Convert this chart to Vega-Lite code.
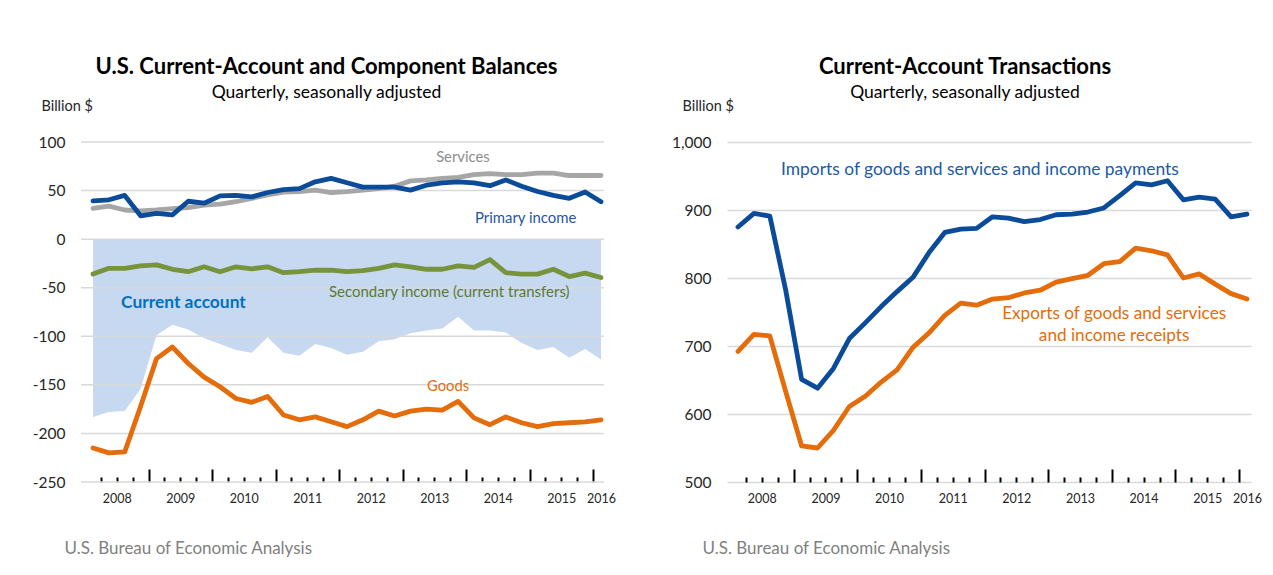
{
  "$schema": "https://vega.github.io/schema/vega-lite/v6.json",
  "background": "white",
  "padding": {"left": 32, "top": 55, "right": 5, "bottom": 5},
  "spacing": 55,
  "config": {"font": "Lato", "view": {"stroke": null}},
  "datasets": {
    "bal": [
      {"t": 2008.125, "goods": -215, "services": 31.7, "primary": 39.5, "secondary": -36, "ca": -183},
      {"t": 2008.375, "goods": -220, "services": 34, "primary": 40.5, "secondary": -30, "ca": -178},
      {"t": 2008.625, "goods": -219, "services": 30, "primary": 45, "secondary": -30, "ca": -177},
      {"t": 2008.875, "goods": -172, "services": 29, "primary": 24, "secondary": -27.5, "ca": -154},
      {"t": 2009.125, "goods": -123, "services": 30, "primary": 26.5, "secondary": -26.5, "ca": -99},
      {"t": 2009.375, "goods": -111, "services": 31.5, "primary": 25, "secondary": -31, "ca": -88},
      {"t": 2009.625, "goods": -128, "services": 32.5, "primary": 39, "secondary": -33.5, "ca": -93},
      {"t": 2009.875, "goods": -142, "services": 35, "primary": 37, "secondary": -28.5, "ca": -102},
      {"t": 2010.125, "goods": -152, "services": 36, "primary": 44.5, "secondary": -33.5, "ca": -108},
      {"t": 2010.375, "goods": -164, "services": 38.5, "primary": 45, "secondary": -28.5, "ca": -114},
      {"t": 2010.625, "goods": -168, "services": 42, "primary": 43.5, "secondary": -30.5, "ca": -117},
      {"t": 2010.875, "goods": -162, "services": 45.5, "primary": 48, "secondary": -28.5, "ca": -101},
      {"t": 2011.125, "goods": -181, "services": 48.5, "primary": 51, "secondary": -34.5, "ca": -117},
      {"t": 2011.375, "goods": -186, "services": 49, "primary": 52, "secondary": -33.5, "ca": -120},
      {"t": 2011.625, "goods": -183, "services": 50.5, "primary": 59, "secondary": -32, "ca": -108},
      {"t": 2011.875, "goods": -188, "services": 48, "primary": 62.5, "secondary": -32, "ca": -112},
      {"t": 2012.125, "goods": -193, "services": 49, "primary": 58, "secondary": -33.5, "ca": -119},
      {"t": 2012.375, "goods": -186, "services": 50.5, "primary": 53.5, "secondary": -32.5, "ca": -116},
      {"t": 2012.625, "goods": -177, "services": 52, "primary": 53.5, "secondary": -30, "ca": -105},
      {"t": 2012.875, "goods": -182, "services": 54.5, "primary": 53.5, "secondary": -26.5, "ca": -103},
      {"t": 2013.125, "goods": -177, "services": 60, "primary": 50.5, "secondary": -28.5, "ca": -97},
      {"t": 2013.375, "goods": -175, "services": 61, "primary": 55.5, "secondary": -31, "ca": -94},
      {"t": 2013.625, "goods": -176, "services": 62.5, "primary": 58, "secondary": -31, "ca": -92},
      {"t": 2013.875, "goods": -167, "services": 63.5, "primary": 59, "secondary": -27.5, "ca": -80},
      {"t": 2014.125, "goods": -184, "services": 66.5, "primary": 58, "secondary": -29, "ca": -94},
      {"t": 2014.375, "goods": -191, "services": 67.5, "primary": 55, "secondary": -21, "ca": -94},
      {"t": 2014.625, "goods": -183, "services": 66.5, "primary": 61, "secondary": -34.5, "ca": -96},
      {"t": 2014.875, "goods": -189, "services": 66.5, "primary": 54.5, "secondary": -36, "ca": -107},
      {"t": 2015.125, "goods": -193, "services": 68, "primary": 49, "secondary": -36, "ca": -114},
      {"t": 2015.375, "goods": -190, "services": 68, "primary": 45, "secondary": -31, "ca": -111},
      {"t": 2015.625, "goods": -189, "services": 65.5, "primary": 42, "secondary": -38.5, "ca": -122},
      {"t": 2015.875, "goods": -188, "services": 65.5, "primary": 48.5, "secondary": -35, "ca": -113},
      {"t": 2016.125, "goods": -186, "services": 65.5, "primary": 38.5, "secondary": -39.5, "ca": -124}
    ],
    "trans": [
      {"t": 2008.125, "imports": 875, "exports": 692},
      {"t": 2008.375, "imports": 895, "exports": 717},
      {"t": 2008.625, "imports": 891, "exports": 715},
      {"t": 2008.875, "imports": 782, "exports": 633},
      {"t": 2009.125, "imports": 651, "exports": 553},
      {"t": 2009.375, "imports": 638, "exports": 550},
      {"t": 2009.625, "imports": 667, "exports": 576},
      {"t": 2009.875, "imports": 711, "exports": 611},
      {"t": 2010.125, "imports": 734, "exports": 626},
      {"t": 2010.375, "imports": 758, "exports": 647},
      {"t": 2010.625, "imports": 780, "exports": 665},
      {"t": 2010.875, "imports": 801, "exports": 698},
      {"t": 2011.125, "imports": 837, "exports": 719},
      {"t": 2011.375, "imports": 867, "exports": 745},
      {"t": 2011.625, "imports": 872, "exports": 763},
      {"t": 2011.875, "imports": 873, "exports": 760},
      {"t": 2012.125, "imports": 890, "exports": 769},
      {"t": 2012.375, "imports": 888, "exports": 771},
      {"t": 2012.625, "imports": 883, "exports": 778},
      {"t": 2012.875, "imports": 886, "exports": 782},
      {"t": 2013.125, "imports": 893, "exports": 794},
      {"t": 2013.375, "imports": 894, "exports": 799},
      {"t": 2013.625, "imports": 897, "exports": 804},
      {"t": 2013.875, "imports": 903, "exports": 821},
      {"t": 2014.125, "imports": 921, "exports": 824},
      {"t": 2014.375, "imports": 940, "exports": 844},
      {"t": 2014.625, "imports": 937, "exports": 840},
      {"t": 2014.875, "imports": 943, "exports": 834},
      {"t": 2015.125, "imports": 915, "exports": 800},
      {"t": 2015.375, "imports": 919, "exports": 806},
      {"t": 2015.625, "imports": 916, "exports": 791},
      {"t": 2015.875, "imports": 890, "exports": 777},
      {"t": 2016.125, "imports": 894, "exports": 769}
    ],
    "gridL": [{"g": -250}, {"g": -200}, {"g": -150}, {"g": -100}, {"g": -50}, {"g": 0}, {"g": 50}, {"g": 100}]
  },
  "hconcat": [
    {
      "width": 523,
      "height": 340,
      "title": {
        "text": "U.S. Current-Account and Component Balances",
        "subtitle": "Quarterly, seasonally adjusted",
        "anchor": "middle",
        "frame": "group",
        "dx": -16,
        "offset": -4,
        "font": "Lato",
        "fontSize": 22,
        "fontWeight": "bold",
        "color": "#000000",
        "subtitleFont": "Lato",
        "subtitleFontSize": 17.5,
        "subtitleColor": "#000000",
        "subtitlePadding": 5
      },
      "layer": [
        {
          "data": {"name": "bal"},
          "mark": {"type": "area", "color": "#C6D9F1", "opacity": 1},
          "encoding": {
            "x": {
              "field": "t",
              "type": "quantitative",
              "scale": {"domain": [2007.936, 2016.172], "nice": false, "zero": false},
              "axis": {
                "values": [2008.25, 2008.5, 2008.75, 2009, 2009.25, 2009.5, 2009.75, 2010, 2010.25, 2010.5, 2010.75, 2011, 2011.25, 2011.5, 2011.75, 2012, 2012.25, 2012.5, 2012.75, 2013, 2013.25, 2013.5, 2013.75, 2014, 2014.25, 2014.5, 2014.75, 2015, 2015.25, 2015.5, 2015.75, 2016, 2016.125],
                "tickCount": 200,
                "labelExpr": "((datum.value * 4) % 4 === 2 || datum.value === 2016.125) ? ('' + floor(datum.value)) : ''",
                "tickSize": {"condition": {"test": "datum.value % 1 === 0", "value": -13}, "value": -5},
                "tickOpacity": {"condition": {"test": "datum.value === 2016.125", "value": 0}, "value": 1},
                "tickColor": "#000000",
                "tickWidth": 2,
                "domain": false,
                "grid": false,
                "labelPadding": 15,
                "labelFontSize": 12.5,
                "labelColor": "#262626",
                "labelFlush": false,
                "labelOverlap": false,
                "labelBound": false,
                "title": "U.S. Bureau of Economic Analysis",
                "titleFontSize": 17,
                "titleFontWeight": "normal",
                "titleColor": "#7f7f7f",
                "titleX": -17,
                "titleY": 66,
                "titleAlign": "left",
                "titleAnchor": "start",
                "titleBaseline": "middle"
              }
            },
            "y": {
              "field": "ca",
              "type": "quantitative",
              "scale": {"domain": [-250, 100], "nice": false, "zero": false},
              "axis": {
                "values": [-250, -200, -150, -100, -50, 0, 50, 100],
                "grid": false,
                "domain": false,
                "ticks": false,
                "labelPadding": 16,
                "labelFontSize": 15.5,
                "labelColor": "#262626",
                "labelExpr": "'' + datum.value",
                "title": "Billion $",
                "titleAngle": 0,
                "titleX": -40,
                "titleY": -36,
                "titleAlign": "left",
                "titleBaseline": "middle",
                "titleFontSize": 14.5,
                "titleFontWeight": "normal",
                "titleColor": "#262626"
              }
            },
            "y2": {"datum": 0}
          }
        },
        {
          "data": {"name": "gridL"},
          "mark": {"type": "rule", "color": "#d9d9d9", "strokeWidth": 1.5},
          "encoding": {"y": {"field": "g", "type": "quantitative"}}
        },
        {
          "data": {"name": "bal"},
          "mark": {"type": "line", "color": "#A6A6A6", "strokeWidth": 4.8, "strokeJoin": "round", "strokeCap": "round"},
          "encoding": {
            "x": {"field": "t", "type": "quantitative"},
            "y": {"field": "services", "type": "quantitative"}
          }
        },
        {
          "data": {"name": "bal"},
          "mark": {"type": "line", "color": "#77933C", "strokeWidth": 4.8, "strokeJoin": "round", "strokeCap": "round"},
          "encoding": {
            "x": {"field": "t", "type": "quantitative"},
            "y": {"field": "secondary", "type": "quantitative"}
          }
        },
        {
          "data": {"name": "bal"},
          "mark": {"type": "line", "color": "#E46C0A", "strokeWidth": 4.8, "strokeJoin": "round", "strokeCap": "round"},
          "encoding": {
            "x": {"field": "t", "type": "quantitative"},
            "y": {"field": "goods", "type": "quantitative"}
          }
        },
        {
          "data": {"name": "bal"},
          "mark": {"type": "line", "color": "#0B4C9A", "strokeWidth": 4.8, "strokeJoin": "round", "strokeCap": "round"},
          "encoding": {
            "x": {"field": "t", "type": "quantitative"},
            "y": {"field": "primary", "type": "quantitative"}
          }
        },
        {
          "data": {"values": [{"t": 2013.95, "v": 83.5, "label": "Services"}]},
          "mark": {"type": "text", "color": "#8c8c8c", "fontSize": 14.8, "align": "center", "baseline": "middle"},
          "encoding": {
            "x": {"field": "t", "type": "quantitative"},
            "y": {"field": "v", "type": "quantitative"},
            "text": {"field": "label"}
          }
        },
        {
          "data": {"values": [{"t": 2014.14, "v": 20.7, "label": "Primary income"}]},
          "mark": {"type": "text", "color": "#1F56A0", "fontSize": 14.9, "align": "left", "baseline": "middle"},
          "encoding": {
            "x": {"field": "t", "type": "quantitative"},
            "y": {"field": "v", "type": "quantitative"},
            "text": {"field": "label"}
          }
        },
        {
          "data": {"values": [{"t": 2008.566, "v": -65.7, "label": "Current account"}]},
          "mark": {"type": "text", "color": "#0070C0", "fontSize": 17.4, "fontWeight": "bold", "align": "left", "baseline": "middle"},
          "encoding": {
            "x": {"field": "t", "type": "quantitative"},
            "y": {"field": "v", "type": "quantitative"},
            "text": {"field": "label"}
          }
        },
        {
          "data": {"values": [{"t": 2011.84, "v": -54.4, "label": "Secondary income (current transfers)"}]},
          "mark": {"type": "text", "color": "#5E7A2E", "fontSize": 15, "align": "left", "baseline": "middle"},
          "encoding": {
            "x": {"field": "t", "type": "quantitative"},
            "y": {"field": "v", "type": "quantitative"},
            "text": {"field": "label"}
          }
        },
        {
          "data": {"values": [{"t": 2013.716, "v": -152.2, "label": "Goods"}]},
          "mark": {"type": "text", "color": "#E46C0A", "fontSize": 14.8, "align": "center", "baseline": "middle"},
          "encoding": {
            "x": {"field": "t", "type": "quantitative"},
            "y": {"field": "v", "type": "quantitative"},
            "text": {"field": "label"}
          }
        }
      ]
    },
    {
      "width": 524,
      "height": 340,
      "title": {
        "text": "Current-Account Transactions",
        "subtitle": "Quarterly, seasonally adjusted",
        "anchor": "middle",
        "frame": "group",
        "dx": -24,
        "offset": -4,
        "font": "Lato",
        "fontSize": 22,
        "fontWeight": "bold",
        "color": "#000000",
        "subtitleFont": "Lato",
        "subtitleFontSize": 17.5,
        "subtitleColor": "#000000",
        "subtitlePadding": 5
      },
      "layer": [
        {
          "data": {"name": "trans"},
          "mark": {"type": "line", "color": "#E46C0A", "strokeWidth": 4.8, "strokeJoin": "round", "strokeCap": "round"},
          "encoding": {
            "x": {
              "field": "t",
              "type": "quantitative",
              "scale": {"domain": [2007.952, 2016.188], "nice": false, "zero": false},
              "axis": {
                "values": [2008.25, 2008.5, 2008.75, 2009, 2009.25, 2009.5, 2009.75, 2010, 2010.25, 2010.5, 2010.75, 2011, 2011.25, 2011.5, 2011.75, 2012, 2012.25, 2012.5, 2012.75, 2013, 2013.25, 2013.5, 2013.75, 2014, 2014.25, 2014.5, 2014.75, 2015, 2015.25, 2015.5, 2015.75, 2016, 2016.125],
                "tickCount": 200,
                "labelExpr": "((datum.value * 4) % 4 === 2 || datum.value === 2016.125) ? ('' + floor(datum.value)) : ''",
                "tickSize": {"condition": {"test": "datum.value % 1 === 0", "value": -13}, "value": -5},
                "tickOpacity": {"condition": {"test": "datum.value === 2016.125", "value": 0}, "value": 1},
                "tickColor": "#000000",
                "tickWidth": 2,
                "domain": false,
                "grid": false,
                "labelPadding": 15,
                "labelFontSize": 12.5,
                "labelColor": "#262626",
                "labelFlush": false,
                "labelOverlap": false,
                "labelBound": false,
                "title": "U.S. Bureau of Economic Analysis",
                "titleFontSize": 17,
                "titleFontWeight": "normal",
                "titleColor": "#7f7f7f",
                "titleX": -25,
                "titleY": 66,
                "titleAlign": "left",
                "titleAnchor": "start",
                "titleBaseline": "middle"
              }
            },
            "y": {
              "field": "exports",
              "type": "quantitative",
              "scale": {"domain": [500, 1000], "nice": false, "zero": false},
              "axis": {
                "values": [500, 600, 700, 800, 900, 1000],
                "grid": true,
                "gridColor": "#d9d9d9",
                "gridWidth": 1.5,
                "domain": false,
                "ticks": false,
                "labelPadding": 16,
                "labelFontSize": 15.5,
                "labelColor": "#262626",
                "labelExpr": "format(datum.value, ',')",
                "title": "Billion $",
                "titleAngle": 0,
                "titleX": -45,
                "titleY": -36,
                "titleAlign": "left",
                "titleBaseline": "middle",
                "titleFontSize": 14.5,
                "titleFontWeight": "normal",
                "titleColor": "#262626"
              }
            }
          }
        },
        {
          "data": {"name": "trans"},
          "mark": {"type": "line", "color": "#0B4C9A", "strokeWidth": 4.8, "strokeJoin": "round", "strokeCap": "round"},
          "encoding": {
            "x": {"field": "t", "type": "quantitative"},
            "y": {"field": "imports", "type": "quantitative"}
          }
        },
        {
          "data": {"values": [{"t": 2008.801, "v": 958.8, "label": "Imports of goods and services and income payments"}]},
          "mark": {"type": "text", "color": "#1A5AA6", "fontSize": 17.4, "align": "left", "baseline": "middle"},
          "encoding": {
            "x": {"field": "t", "type": "quantitative"},
            "y": {"field": "v", "type": "quantitative"},
            "text": {"field": "label"}
          }
        },
        {
          "data": {"values": [{"t": 2014.037, "v": 747, "label": "Exports of goods and services"}, {"t": 2014.037, "v": 714.7, "label": "and income receipts"}]},
          "mark": {"type": "text", "color": "#E46C0A", "fontSize": 17.2, "align": "center", "baseline": "middle"},
          "encoding": {
            "x": {"field": "t", "type": "quantitative"},
            "y": {"field": "v", "type": "quantitative"},
            "text": {"field": "label"}
          }
        }
      ]
    }
  ]
}
